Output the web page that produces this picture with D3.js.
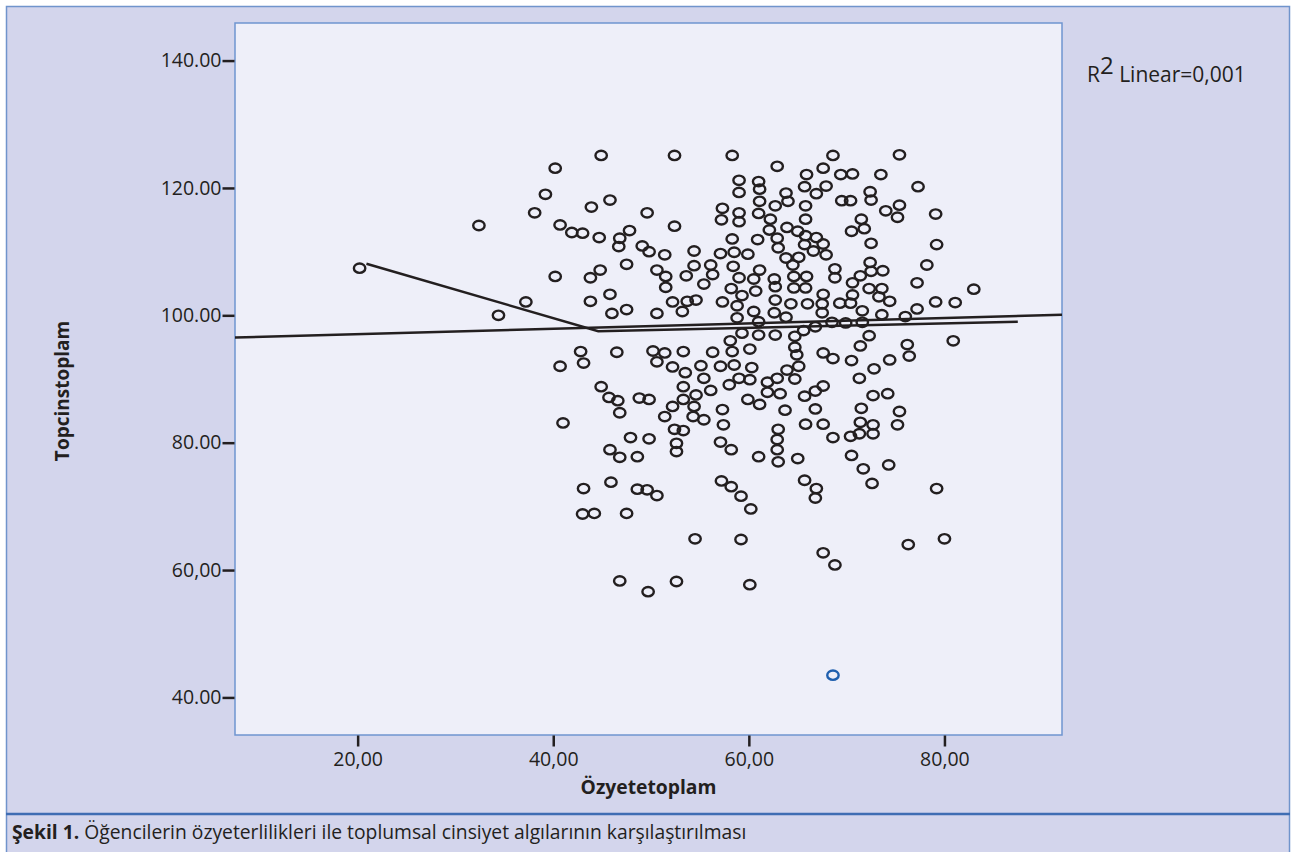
<!DOCTYPE html>
<html>
<head>
<meta charset="utf-8">
<script src="https://cdn.jsdelivr.net/npm/d3@7"></script>
<style>
  body { margin: 0; background: #fff; }
  text { font-family: "Open Sans", "Noto Sans", sans-serif; fill: #231f20; }
</style>
</head>
<body>
<div id="chart"></div>
<script>
// Özyetetoplam (x) / Topcinstoplam (y)
const ozyetetoplam = [
  39.2, 38.1, 32.4, 20.2, 37.2, 34.4, 44.9, 52.4, 58.3, 40.2, 59.0, 61.0, 59.0, 61.1, 45.8, 43.9, 61.1, 62.7, 49.6, 57.3,
  57.2, 59.0, 59.0, 61.0, 62.2, 40.7, 41.9, 43.0, 52.4, 47.8, 44.7, 46.8, 46.7, 62.1, 58.3, 60.9, 49.1, 49.8, 51.4, 54.4,
  57.1, 58.5, 59.9, 47.5, 54.4, 56.1, 56.3, 58.4, 61.1, 40.2, 44.8, 43.8, 50.6, 51.5, 51.5, 53.6, 55.4, 59.0, 60.5, 62.6,
  62.7, 58.2, 60.7, 59.3, 45.8, 43.8, 52.2, 53.7, 54.6, 53.2, 57.3, 58.8, 62.7, 46.0, 47.5, 50.6, 58.8, 60.5, 61.0, 62.6,
  59.3, 61.0, 62.7, 58.1, 58.3, 60.1, 42.8, 43.1, 40.7, 46.5, 50.2, 51.4, 50.6, 53.3, 56.3, 52.2, 53.5, 55.1, 55.4, 57.1,
  58.5, 60.3, 59.0, 60.1, 58.0, 61.9, 62.9, 44.9, 53.3, 56.1, 61.9, 45.7, 46.6, 46.8, 48.8, 49.8, 54.6, 53.3, 54.4, 52.2,
  59.9, 61.1, 57.3, 51.4, 54.3, 41.0, 68.6, 75.4, 62.9, 67.6, 65.9, 69.4, 70.6, 73.5, 65.7, 67.9, 66.9, 63.8, 64.0, 77.3,
  72.4, 72.5, 69.5, 70.4, 65.8, 65.8, 75.4, 74.0, 75.2, 79.1, 71.5, 71.8, 70.5, 63.9, 65.0, 65.8, 66.9, 67.6, 67.9, 66.6,
  65.7, 62.9, 63.0, 72.5, 79.2, 63.8, 64.5, 65.1, 72.4, 72.5, 73.7, 78.2, 68.8, 68.8, 71.4, 70.6, 64.6, 65.9, 64.6, 65.8,
  72.3, 73.6, 73.3, 74.4, 77.2, 83.0, 67.6, 67.5, 67.5, 70.6, 70.4, 69.3, 64.3, 66.0, 79.1, 81.1, 77.2, 71.6, 73.6, 76.0,
  63.8, 68.5, 69.9, 71.6, 66.8, 65.6, 64.7, 64.7, 64.9, 72.3, 71.4, 80.9, 76.2, 76.4, 67.6, 68.6, 70.5, 74.4, 72.8, 65.1,
  63.9, 64.7, 71.3, 67.6, 66.8, 65.7, 63.2, 72.7, 74.2, 63.7, 66.8, 71.5, 75.4, 71.4, 72.7, 72.7, 71.3, 70.4, 75.2, 63.0,
  62.9, 62.9, 63.0, 65.8, 67.6, 68.6, 65.0, 70.5, 71.7, 74.3, 72.6, 65.7, 66.9, 66.8, 79.2, 67.6, 68.8, 76.3, 80.0, 55.4,
  57.4, 52.4, 53.3, 52.6, 52.6, 47.9, 49.8, 45.8, 46.8, 48.6, 57.1, 58.2, 61.0, 43.1, 45.9, 48.6, 49.6, 50.6, 57.2, 58.2,
  59.2, 60.2, 43.0, 44.2, 47.5, 54.5, 59.2, 46.8, 49.7, 52.6, 60.1
];
const topcinstoplam = [
  119.0, 116.1, 114.1, 107.4, 102.1, 100.0, 125.1, 125.1, 125.1, 123.1, 121.2, 121.0, 119.3, 119.8, 118.1, 117.0, 117.9, 117.2, 116.1, 116.8,
  115.0, 116.1, 114.7, 116.0, 115.1, 114.2, 113.0, 112.9, 114.0, 113.3, 112.2, 112.1, 110.8, 113.4, 112.0, 111.9, 110.9, 110.0, 109.5, 110.1,
  109.7, 109.9, 109.6, 108.0, 107.8, 107.9, 106.4, 107.7, 107.1, 106.1, 107.1, 105.9, 107.1, 106.1, 104.4, 106.2, 104.9, 105.9, 105.7, 105.7,
  104.5, 104.2, 103.8, 103.1, 103.3, 102.2, 102.1, 102.2, 102.4, 100.6, 102.1, 101.5, 102.4, 100.3, 100.9, 100.3, 99.6, 100.6, 99.0, 100.4,
  97.2, 96.9, 96.9, 96.0, 94.3, 94.7, 94.3, 92.5, 92.0, 94.2, 94.4, 94.1, 92.7, 94.3, 94.2, 91.9, 91.0, 92.1, 90.1, 92.0,
  92.2, 91.8, 90.1, 89.9, 89.1, 89.5, 90.1, 88.8, 88.8, 88.2, 87.9, 87.1, 86.6, 84.7, 87.0, 86.8, 87.5, 86.8, 85.7, 85.7,
  86.8, 86.0, 85.2, 84.1, 84.1, 83.1, 125.1, 125.2, 123.4, 123.1, 122.1, 122.1, 122.2, 122.1, 120.2, 120.3, 119.1, 119.2, 117.9, 120.2,
  119.4, 118.1, 118.0, 118.0, 117.2, 115.1, 117.3, 116.4, 115.4, 115.9, 115.1, 113.6, 113.2, 113.8, 113.2, 112.5, 112.2, 111.2, 109.5, 110.1,
  111.1, 112.1, 110.6, 111.3, 111.1, 109.0, 107.9, 109.1, 108.3, 106.9, 107.0, 107.9, 107.3, 105.9, 106.2, 105.1, 106.1, 106.1, 104.3, 104.3,
  104.2, 104.2, 102.9, 102.2, 105.1, 104.1, 103.3, 101.8, 100.4, 103.2, 101.9, 101.9, 101.8, 101.8, 102.1, 102.0, 101.0, 100.7, 100.1, 99.8,
  99.7, 98.9, 98.8, 98.9, 98.2, 97.6, 96.7, 95.0, 93.8, 96.8, 95.2, 96.0, 95.4, 93.6, 94.1, 93.2, 92.9, 93.0, 91.6, 92.0,
  91.4, 90.0, 90.1, 88.9, 88.1, 87.3, 87.7, 87.4, 87.7, 85.1, 85.3, 85.4, 84.9, 83.2, 82.8, 81.4, 81.4, 81.0, 82.8, 82.1,
  80.5, 78.9, 77.0, 82.9, 82.9, 80.8, 77.5, 78.0, 75.9, 76.5, 73.6, 74.1, 72.8, 71.3, 72.8, 62.7, 60.8, 64.0, 64.9, 83.6,
  82.8, 82.1, 81.9, 79.9, 78.6, 80.8, 80.6, 78.9, 77.7, 77.8, 80.1, 78.9, 77.8, 72.8, 73.8, 72.7, 72.6, 71.7, 74.0, 73.1,
  71.6, 69.6, 68.8, 68.9, 68.9, 64.9, 64.8, 58.3, 56.6, 58.2, 57.7
];
// the single highlighted case
const highlightX = [68.6];
const highlightY = [43.5];

// fit line and the drawn line through the lowest-x case
const fitLineX = [7.46, 92.02];
const fitLineY = [96.5, 100.1];
const markLineX = [20.9, 44.6, 87.5];
const markLineY = [108.1, 97.5, 99.0];

const xTicks = [20, 40, 60, 80];
const xTickLabels = ["20,00", "40,00", "60,00", "80,00"];
const yTicks = [40, 60, 80, 100, 120, 140];
const yTickLabels = ["40.00", "60,00", "80.00", "100.00", "120.00", "140.00"];

const W = 1293, H = 852;
const plot = { left: 235, right: 1062, top: 23, bottom: 735 };
const ink = "#231f20";

const svg = d3.select("#chart").append("svg")
    .attr("width", W)
    .attr("height", H);

// outer frame
svg.append("rect")
    .attr("x", 6.5).attr("y", 6.5)
    .attr("width", 1283).attr("height", H)
    .attr("fill", "#d3d5ec")
    .attr("stroke", "#7094cc")
    .attr("stroke-width", 1.5);

svg.append("line")
    .attr("x1", 6).attr("x2", 1290)
    .attr("y1", 814).attr("y2", 814)
    .attr("stroke", "#3f6db3")
    .attr("stroke-width", 2.5);

const x = d3.scaleLinear().domain([7.46, 92.02]).range([plot.left, plot.right]);
const y = d3.scaleLinear().domain([34.1, 145.9]).range([plot.bottom, plot.top]);

svg.append("rect")
    .attr("x", plot.left).attr("y", plot.top)
    .attr("width", plot.right - plot.left)
    .attr("height", plot.bottom - plot.top)
    .attr("fill", "#eeeff9")
    .attr("stroke", "#6f95cf")
    .attr("stroke-width", 1.5);

// axes
const yAxis = svg.append("g")
    .attr("transform", `translate(${plot.left - 0.5},0)`)
    .call(d3.axisLeft(y).tickValues(yTicks).tickSize(12).tickPadding(1)
        .tickFormat((d, i) => yTickLabels[i]));
const xAxis = svg.append("g")
    .attr("transform", `translate(0,${plot.bottom + 0.5})`)
    .call(d3.axisBottom(x).tickValues(xTicks).tickSize(11).tickPadding(6)
        .tickFormat((d, i) => xTickLabels[i]));

[yAxis, xAxis].forEach(g => {
    g.select(".domain").remove();
    g.selectAll(".tick line").attr("stroke", ink).attr("stroke-width", 2.5);
    g.selectAll(".tick text").attr("font-size", 19.5).attr("fill", ink)
        .style("font-family", "'Open Sans', sans-serif");
});

// lines
const lineGen = d3.line().x(d => x(d[0])).y(d => y(d[1]));
svg.append("path")
    .datum(d3.zip(fitLineX, fitLineY))
    .attr("d", lineGen)
    .attr("fill", "none").attr("stroke", ink).attr("stroke-width", 2.5);
svg.append("path")
    .datum(d3.zip(markLineX, markLineY))
    .attr("d", lineGen)
    .attr("fill", "none").attr("stroke", ink).attr("stroke-width", 2.5);

// points
svg.append("g").selectAll("ellipse")
    .data(d3.zip(ozyetetoplam, topcinstoplam))
    .enter().append("ellipse")
    .attr("cx", d => x(d[0]))
    .attr("cy", d => y(d[1]))
    .attr("rx", 5.7).attr("ry", 4.7)
    .attr("fill", "none")
    .attr("stroke", ink)
    .attr("stroke-width", 2.4);

svg.append("g").selectAll("ellipse")
    .data(d3.zip(highlightX, highlightY))
    .enter().append("ellipse")
    .attr("cx", d => x(d[0]))
    .attr("cy", d => y(d[1]))
    .attr("rx", 5.7).attr("ry", 4.7)
    .attr("fill", "none")
    .attr("stroke", "#1f5fae")
    .attr("stroke-width", 2.4);

// titles
svg.append("text")
    .attr("x", (plot.left + plot.right) / 2)
    .attr("y", 794)
    .attr("text-anchor", "middle")
    .attr("font-size", 19.3).attr("font-weight", "bold")
    .text("Özyetetoplam");

svg.append("text")
    .attr("transform", "translate(69,391) rotate(-90)")
    .attr("text-anchor", "middle")
    .attr("font-size", 19).attr("font-weight", "bold")
    .text("Topcinstoplam");

const r2 = svg.append("text")
    .attr("x", 1087).attr("y", 82)
    .attr("font-size", 21);
r2.append("tspan").text("R");
r2.append("tspan").attr("dy", -8).attr("font-size", 24).text("2");
r2.append("tspan").attr("dy", 8).text(" Linear=0,001");

const cap = svg.append("text")
    .attr("x", 12).attr("y", 839)
    .attr("font-size", 19.3);
cap.append("tspan").attr("font-weight", "bold").text("Şekil 1.");
cap.append("tspan").text(" Öğencilerin özyeterlilikleri ile toplumsal cinsiyet algılarının karşılaştırılması");
</script>
</body>
</html>
